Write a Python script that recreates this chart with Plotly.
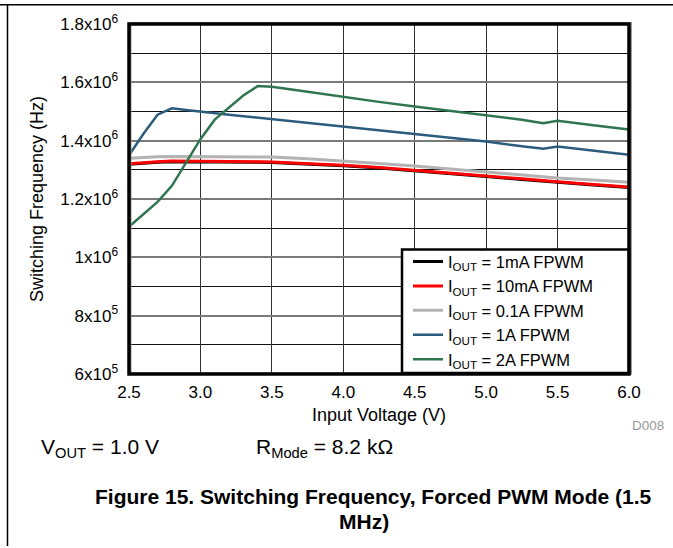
import plotly.graph_objects as go

vin = [2.5, 2.6, 2.7, 2.8, 2.9, 3.0, 3.1, 3.2, 3.3, 3.4, 3.5, 3.75, 4.0, 4.25,
       4.5, 4.75, 5.0, 5.25, 5.4, 5.5, 5.75, 6.0]

f_1ma = [1.319e6, 1.323e6, 1.326e6, 1.328e6, 1.328e6, 1.328e6, 1.328e6, 1.327e6,
         1.326e6, 1.326e6, 1.325e6, 1.320e6, 1.314e6, 1.306e6, 1.297e6, 1.287e6,
         1.277e6, 1.267e6, 1.260e6, 1.257e6, 1.248e6, 1.239e6]
f_10ma = [1.321e6, 1.325e6, 1.328e6, 1.330e6, 1.330e6, 1.330e6, 1.330e6, 1.329e6,
          1.328e6, 1.328e6, 1.327e6, 1.322e6, 1.316e6, 1.308e6, 1.299e6, 1.289e6,
          1.279e6, 1.269e6, 1.262e6, 1.259e6, 1.250e6, 1.241e6]
f_01a = [1.340e6, 1.343e6, 1.345e6, 1.346e6, 1.346e6, 1.346e6, 1.346e6, 1.346e6,
         1.345e6, 1.345e6, 1.344e6, 1.338e6, 1.331e6, 1.322e6, 1.313e6, 1.303e6,
         1.293e6, 1.283e6, 1.276e6, 1.272e6, 1.265e6, 1.257e6]
f_1a = [1.350e6, 1.423e6, 1.489e6, 1.511e6, 1.505e6, 1.499e6, 1.494e6, 1.489e6,
        1.484e6, 1.479e6, 1.474e6, 1.461e6, 1.448e6, 1.435e6, 1.422e6, 1.410e6,
        1.397e6, 1.381e6, 1.372e6, 1.380e6, 1.366e6, 1.352e6]
f_2a = [1.105e6, 1.146e6, 1.190e6, 1.245e6, 1.325e6, 1.405e6, 1.472e6, 1.515e6,
        1.555e6, 1.587e6, 1.585e6, 1.568e6, 1.550e6, 1.533e6, 1.517e6, 1.502e6,
        1.488e6, 1.472e6, 1.460e6, 1.468e6, 1.453e6, 1.438e6]

series_names = ["I<sub>OUT</sub> = 1mA FPWM", "I<sub>OUT</sub> = 10mA FPWM",
                "I<sub>OUT</sub> = 0.1A FPWM", "I<sub>OUT</sub> = 1A FPWM",
                "I<sub>OUT</sub> = 2A FPWM"]
series_vals = [f_1ma, f_10ma, f_01a, f_1a, f_2a]
series_colors = ["#000000", "#ff0000", "#b3b3b3", "#2b5c7e", "#2f7550"]
series_widths = [3, 3, 3, 2.5, 2.5]

y_ticks = [6e5, 8e5, 1e6, 1.2e6, 1.4e6, 1.6e6, 1.8e6]
y_labels = ["6x10<sup>5</sup>", "8x10<sup>5</sup>", "1x10<sup>6</sup>",
            "1.2x10<sup>6</sup>", "1.4x10<sup>6</sup>", "1.6x10<sup>6</sup>",
            "1.8x10<sup>6</sup>"]
x_ticks = [2.5, 3.0, 3.5, 4.0, 4.5, 5.0, 5.5, 6.0]
x_labels = ["2.5", "3.0", "3.5", "4.0", "4.5", "5.0", "5.5", "6.0"]

FONT = "Liberation Sans, Arial, sans-serif"

fig = go.Figure()
order = [0, 2, 1, 3, 4]  # draw red above black
for i in order:
    fig.add_trace(go.Scatter(x=vin, y=series_vals[i], mode="lines",
                             name=series_names[i],
                             line=dict(color=series_colors[i], width=series_widths[i]),
                             legendrank=i + 1))

W, H = 673, 548
L, R, T, B = 129, 44, 20, 174
pw, ph = W - L - R, H - T - B


def px(x):
    return (x - L) / pw


def py(y):
    return (H - B - y) / ph


fig.update_layout(
    width=W, height=H,
    margin=dict(l=L, r=R, t=T, b=B),
    paper_bgcolor="white", plot_bgcolor="white",
    font=dict(family=FONT, size=17, color="#000"),
    showlegend=True,
    legend=dict(x=px(408), y=py(310), xanchor="left", yanchor="middle",
                bgcolor="rgba(0,0,0,0)", borderwidth=0,
                font=dict(size=16.5, family=FONT), tracegroupgap=0,
                itemwidth=30),
    xaxis=dict(range=[2.5, 6.0], tickvals=x_ticks, ticktext=x_labels,
               showgrid=True, gridcolor="#333", gridwidth=1,
               zeroline=False, showline=False, ticks="",
               tickfont=dict(size=17), ticklabelstandoff=6),
    yaxis=dict(range=[6e5, 1.8e6], tickvals=y_ticks, ticktext=y_labels,
               showgrid=True, gridcolor="#7a7a7a", gridwidth=2,
               minor=dict(dtick=1e5, tick0=0, showgrid=True, gridcolor="#111", gridwidth=1),
               zeroline=False, showline=False, ticks="",
               tickfont=dict(size=17), ticklabelstandoff=10),
)

# plot frame
fig.add_shape(type="rect", xref="paper", yref="paper", x0=px(130.5), x1=px(631), y0=py(373.5), y1=py(19),
              line=dict(color="#9a9a9a", width=2), layer="above")
# legend box
fig.add_shape(type="rect", xref="paper", yref="paper", x0=px(402), x1=px(629), y0=py(373), y1=py(248),
              line=dict(color="black", width=2.5), fillcolor="white", layer="above")
fig.add_shape(type="rect", xref="paper", yref="paper", x0=0, x1=1, y0=0, y1=1,
              line=dict(color="black", width=3.5), layer="above")
# page frame lines
fig.add_shape(type="line", xref="paper", yref="paper", x0=px(0), x1=px(673), y0=py(0.5), y1=py(0.5),
              line=dict(color="black", width=1.5))
fig.add_shape(type="line", xref="paper", yref="paper", x0=px(7.5), x1=px(7.5), y0=py(0), y1=py(548),
              line=dict(color="black", width=1.5))

ann = [
    dict(text="Switching Frequency (Hz)", x=px(37), y=py(197), textangle=-90,
         font=dict(size=18)),
    dict(text="Input Voltage (V)", x=px(379), y=py(415), font=dict(size=18)),
    dict(text="D008", x=px(648), y=py(426), font=dict(size=13.5, color="#999")),
    dict(text="V<sub>OUT</sub> = 1.0 V", x=px(39), y=py(449), xanchor="left", font=dict(size=21)),
    dict(text="R<sub>Mode</sub> = 8.2 kΩ", x=px(254), y=py(449), xanchor="left", font=dict(size=21)),
    dict(text="<b>Figure 15. Switching Frequency, Forced PWM Mode (1.5</b>", x=px(373), y=py(498),
         font=dict(size=21)),
    dict(text="<b>MHz)</b>", x=px(364), y=py(523), font=dict(size=21)),
]
for a in ann:
    a.setdefault("xanchor", "center")
    fig.add_annotation(xref="paper", yref="paper", showarrow=False, yanchor="middle", **a)

fig.write_html("out.html", config={"displayModeBar": False},
               post_script="document.body.style.margin='0';document.body.style.overflow='hidden';")
